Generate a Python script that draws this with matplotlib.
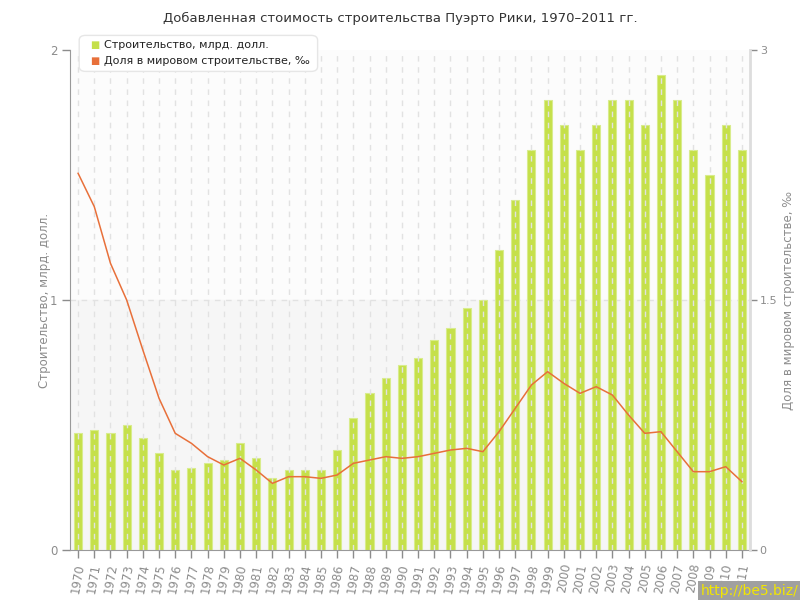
import numpy as np
import matplotlib
matplotlib.use("Agg")
import matplotlib.pyplot as plt
from matplotlib.patches import FancyBboxPatch

# data
years = list(range(1970, 2012))
construction = [0.47, 0.48, 0.47, 0.50, 0.45, 0.39, 0.32, 0.33, 0.35, 0.36,
                0.43, 0.37, 0.29, 0.32, 0.32, 0.32, 0.40, 0.53, 0.63, 0.69,
                0.74, 0.77, 0.84, 0.89, 0.97, 1.00, 1.20, 1.40, 1.60, 1.80,
                1.70, 1.60, 1.70, 1.80, 1.80, 1.70, 1.90, 1.80, 1.60, 1.50,
                1.70, 1.60]
world_share = [2.26, 2.06, 1.72, 1.50, 1.20, 0.91, 0.70, 0.64, 0.56, 0.51,
               0.55, 0.48, 0.40, 0.44, 0.44, 0.43, 0.45, 0.52, 0.54, 0.56,
               0.55, 0.56, 0.58, 0.60, 0.61, 0.59, 0.71, 0.85, 0.99, 1.07,
               1.00, 0.94, 0.98, 0.93, 0.81, 0.70, 0.71, 0.59, 0.47, 0.47,
               0.50, 0.41]
left_ticks = [0, 1, 2]
right_ticks = [0, 1.5, 3]

title = "Добавленная стоимость строительства Пуэрто Рики, 1970–2011 гг."
label_bar = "Строительство, млрд. долл."
label_line = "Доля в мировом строительстве, ‰"

bar_color = "#c5e04a"
line_color = "#e8703a"
grey = "#8c8c8c"

plt.rcParams['font.family'] = ['DejaVu Sans']

fig = plt.figure(figsize=(8, 6), dpi=100)
ax = fig.add_axes([0.0875, 0.0833, 0.85, 0.8334])
ax2 = ax.twinx()

x = np.arange(len(years))
ax.set_xlim(-0.5, len(years) - 0.5)
ax.set_ylim(0, 2)
ax2.set_ylim(0, 3)

ax.set_facecolor("#fcfcfc")
ax.axhspan(0, 1, color="#f6f6f6", zorder=0)

ax.bar(x, construction, width=0.5, color=bar_color, edgecolor="#d8ec8c",
       linewidth=0.8, zorder=2)
for xi in x:
    ax.axvline(xi, color="#e2e2e2", lw=1, ls=(0, (4, 4)), zorder=3)
ax.axhline(1, color="#e2e2e2", lw=1, ls=(0, (4, 4)), zorder=1)

ax2.plot(x, world_share, color=line_color, lw=1.1, zorder=4)

ax.set_xticks(x)
ax.set_xticklabels([str(y) for y in years], rotation=80, fontsize=8.5,
                   color=grey)
ax.set_yticks(left_ticks)
ax.set_yticklabels([str(t) for t in left_ticks], fontsize=8.5, color=grey)
ax2.set_yticks(right_ticks)
ax2.set_yticklabels(["0", "1.5", "3"], fontsize=8, color=grey)

for a in (ax, ax2):
    a.tick_params(axis="both", colors=grey, length=6, width=1, pad=3,
                  labelcolor=grey)
    for s in a.spines.values():
        s.set_visible(False)
ax2.tick_params(axis="y", length=5, pad=2)
ax.spines["left"].set_visible(True)
ax.spines["left"].set_color("#999999")
ax.spines["bottom"].set_visible(True)
ax.spines["bottom"].set_color("#999999")
ax2.spines["right"].set_visible(True)
ax2.spines["right"].set_color("#dddddd")
ax2.spines["right"].set_linewidth(2)

# axis titles
fig.text(0.056, 0.5, label_bar, rotation=90, ha="center", va="center",
         color=grey, fontsize=8.5)
fig.text(0.986, 0.5, label_line, rotation=90, ha="center", va="center",
         color=grey, fontsize=8.5)

fig.text(0.5, 0.97, title, ha="center", va="center", fontsize=9.5, color="#333333")

# legend box
fig.patches.append(FancyBboxPatch((0.103, 0.885), 0.29, 0.052,
                                  boxstyle="round,pad=0.004,rounding_size=0.008",
                                  transform=fig.transFigure, facecolor="white",
                                  edgecolor="#e6e6e6", lw=1, zorder=5))
fig.text(0.113, 0.925, "■", color=bar_color, fontsize=7, va="center", zorder=6)
fig.text(0.13, 0.925, label_bar, color="#222222", fontsize=8, va="center", zorder=6)
fig.text(0.113, 0.898, "■", color=line_color, fontsize=7, va="center", zorder=6)
fig.text(0.13, 0.898, label_line, color="#222222", fontsize=8, va="center", zorder=6)

# watermark
fig.text(0.998, 0.003, "http://be5.biz/", color="#f2e600", fontsize=10,
         ha="right", va="bottom",
         bbox=dict(facecolor="#a0a0a0", edgecolor="none", pad=2))

fig.savefig("out.png", dpi=100)
